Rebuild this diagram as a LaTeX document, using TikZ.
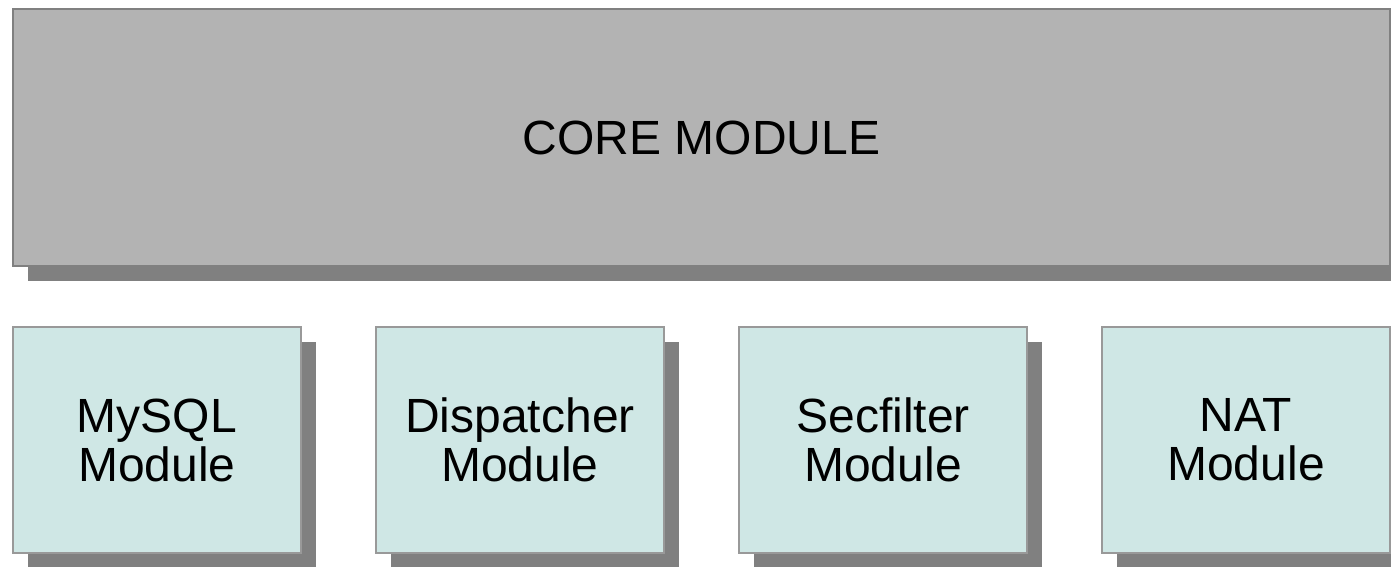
\documentclass[tikz,border=0pt]{standalone}
\usepackage{fontspec}
\setmainfont{Liberation Sans}
\usepackage{tikz}
\usetikzlibrary{shadows}
\usepackage{xcolor}
\definecolor{coregray}{RGB}{179, 179, 179}
\definecolor{modteal}{RGB}{207, 231, 229}
\definecolor{edgegray}{RGB}{128, 128, 128}
\definecolor{shadowgray}{RGB}{128, 128, 128}

\begin{document}
\begin{tikzpicture}[x=1pt, y=-1pt,
  boxshadow/.style={drop shadow={shadow xshift=15pt, shadow yshift=-15pt, fill=shadowgray, opacity=1}},
  corebox/.style={draw=edgegray, line width=1.5pt, fill=coregray, boxshadow,
    minimum width=1377pt, minimum height=257pt, inner sep=0pt, align=center,
    font=\fontsize{48}{54}\selectfont},
  modbox/.style={draw=edgegray!80, line width=1.5pt, fill=modteal, boxshadow,
    minimum width=288pt, minimum height=226pt, inner sep=0pt, align=center,
    font=\fontsize{48}{49}\selectfont}]
  % page frame
  \useasboundingbox[fill=white] (0,0) rectangle (1391,566);

  % core
  \node[corebox] (core) at (701.5,137.5) {CORE MODULE};

  % modules
  \node[modbox] (mysql) at (157,440) {MySQL\\Module};
  \node[modbox] (dispatcher) at (520,440) {Dispatcher\\Module};
  \node[modbox] (secfilter) at (883,440) {Secfilter\\Module};
  \node[modbox] (nat) at (1246,440) {NAT\\Module};

\end{tikzpicture}
\end{document}
